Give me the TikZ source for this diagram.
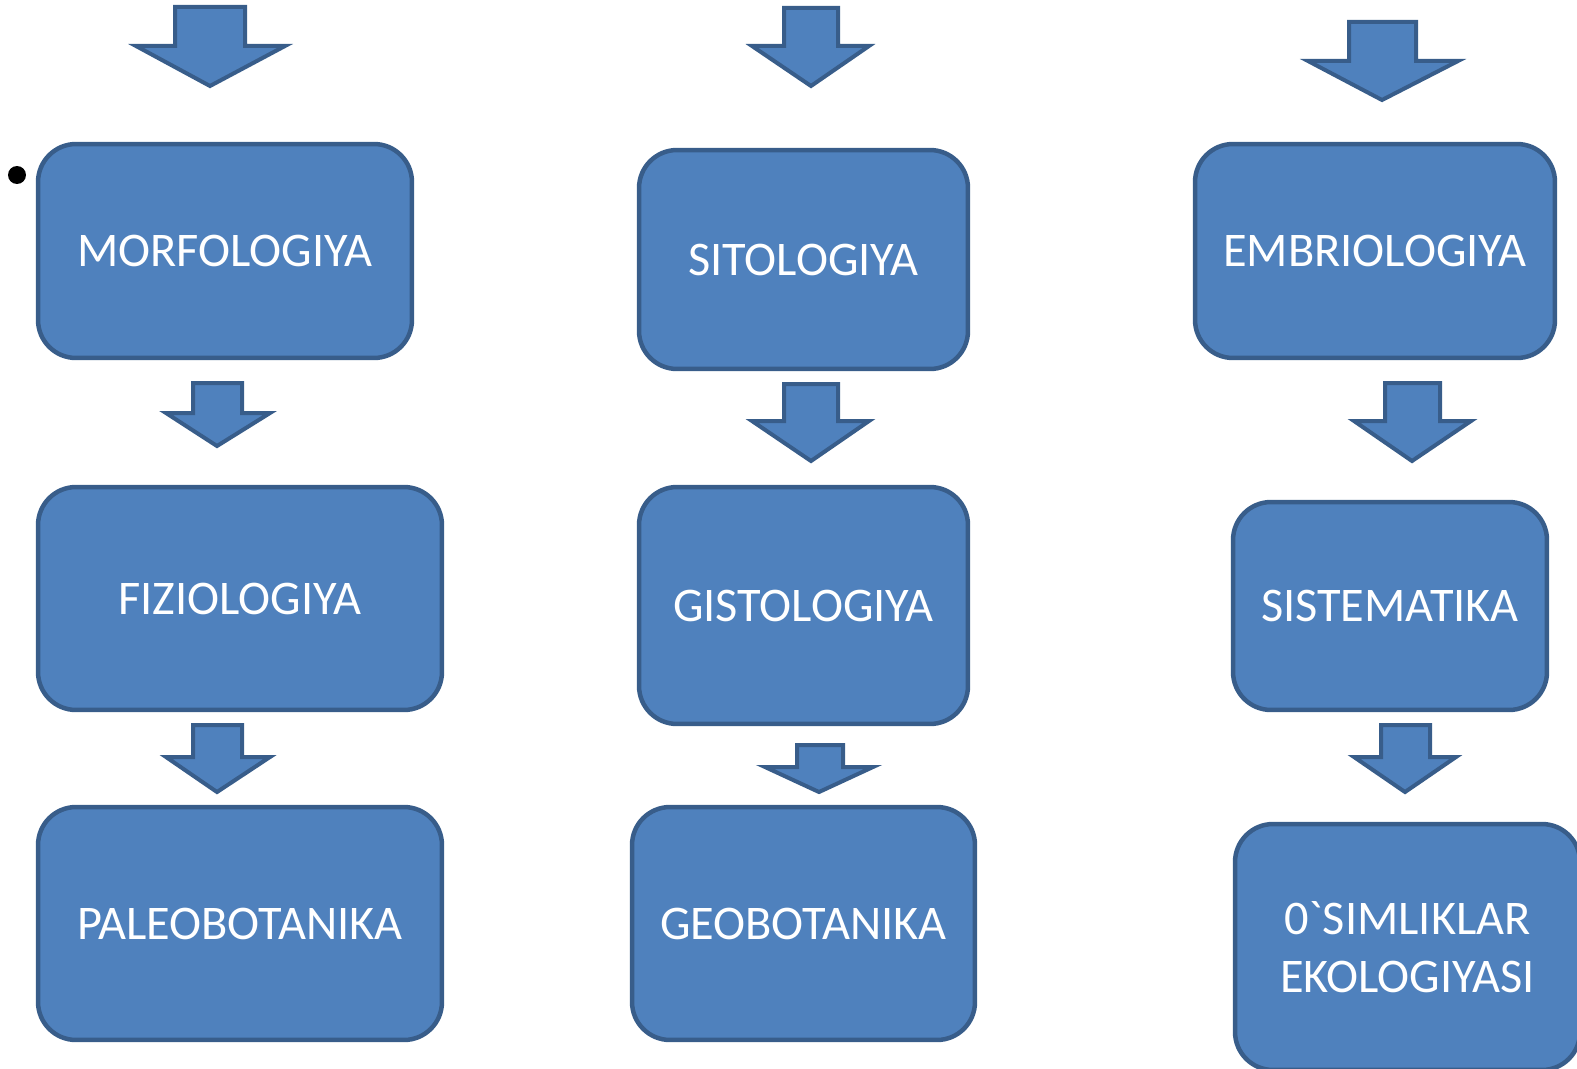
\documentclass[tikz,border=0pt]{standalone}
\usepackage{fontspec}
\newfontfamily\boxfont{Carlito}
\usepackage{tikz}
\definecolor{boxfill}{HTML}{4F81BD}
\definecolor{boxline}{HTML}{385D8A}
\tikzstyle{box} = [rectangle, rounded corners=0.76cm, draw=boxline, fill=boxfill, line width=0.09cm, inner sep=0pt, text=white, align=center, font=\boxfont\fontsize{27.5}{33}\selectfont]
\tikzstyle{down} = [draw=boxline, fill=boxfill, line width=0.08cm]

\begin{document}
\begin{tikzpicture}[x=0.02cm, y=-0.02cm]
  \useasboundingbox (0,0) rectangle (1577,1068);

  \node (dot) at (17,175) [circle, fill=black, inner sep=0pt, minimum size=0.36cm] {};

  \node (a) at (225,251) [box, minimum width=7.48cm, minimum height=4.28cm] {MORFOLOGIYA};
  \node (b) at (240,598.5) [box, minimum width=8.08cm, minimum height=4.46cm] {FIZIOLOGIYA};
  \node (c) at (240,923.5) [box, minimum width=8.08cm, minimum height=4.66cm] {PALEOBOTANIKA};
  \node (d) at (803.5,259.5) [box, minimum width=6.58cm, minimum height=4.38cm] {SITOLOGIYA};
  \node (e) at (803.5,605.5) [box, minimum width=6.58cm, minimum height=4.74cm] {GISTOLOGIYA};
  \node (f) at (803.5,923.5) [box, minimum width=6.86cm, minimum height=4.66cm] {GEOBOTANIKA};
  \node (g) at (1375,251) [box, minimum width=7.2cm, minimum height=4.28cm] {EMBRIOLOGIYA};
  \node (h) at (1390,606) [box, minimum width=6.28cm, minimum height=4.16cm] {SISTEMATIKA};
  \node (i) at (1407.5,947) [box, minimum width=6.9cm, minimum height=4.92cm] {0`SIMLIKLAR\\EKOLOGIYASI};

  % block arrows
  \draw [down] (175,7) -- (245,7) -- (245,46) -- (285,46) -- (210,86) -- (136,46) -- (175,46) -- cycle;
  \draw [down] (784,8) -- (838,8) -- (838,46) -- (869,46) -- (811,86) -- (752,46) -- (784,46) -- cycle;
  \draw [down] (1349,22) -- (1416,22) -- (1416,61) -- (1458,61) -- (1382,100) -- (1308,61) -- (1349,61) -- cycle;
  \draw [down] (193,383) -- (242,383) -- (242,413) -- (270,413) -- (217,446) -- (166,413) -- (193,413) -- cycle;
  \draw [down] (193,725) -- (242,725) -- (242,757) -- (270,757) -- (217,792) -- (166,757) -- (193,757) -- cycle;
  \draw [down] (784,384) -- (838,384) -- (838,421) -- (869,421) -- (811,461) -- (752,421) -- (784,421) -- cycle;
  \draw [down] (797,745) -- (843,745) -- (843,767) -- (873,767) -- (819,792) -- (765,767) -- (797,767) -- cycle;
  \draw [down] (1385,383) -- (1440,383) -- (1440,421) -- (1471,421) -- (1412,461) -- (1354,421) -- (1385,421) -- cycle;
  \draw [down] (1381,725) -- (1430,725) -- (1430,757) -- (1456,757) -- (1405,792) -- (1354,757) -- (1381,757) -- cycle;
\end{tikzpicture}
\end{document}
